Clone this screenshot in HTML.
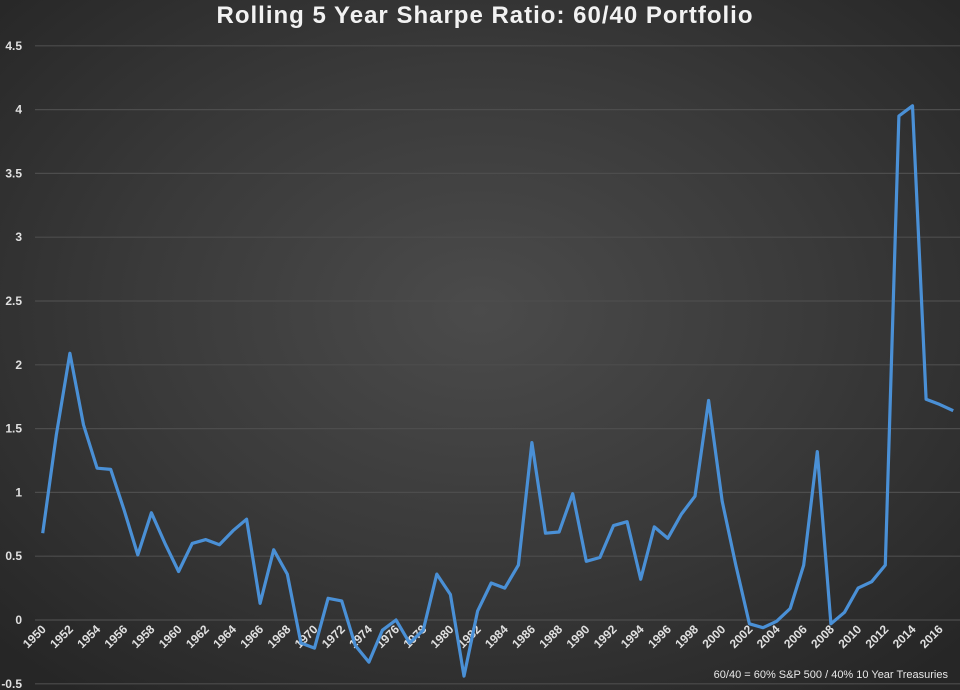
<!DOCTYPE html>
<html><head><meta charset="utf-8"><style>
html,body{margin:0;padding:0;}
body{width:960px;height:690px;overflow:hidden;background:radial-gradient(ellipse 70% 70% at 50% 45%,#4b4b4b 0%,#3a3a3a 50%,#262626 100%);font-family:"Liberation Sans",sans-serif;}
svg{position:absolute;left:0;top:0;}
</style></head><body>
<svg id="chart" width="960" height="690">
<text x="485" y="23" text-anchor="middle" fill="#f2f2f2" font-size="24" font-weight="bold" letter-spacing="1">Rolling 5 Year Sharpe Ratio: 60/40 Portfolio</text>
<g id="grid"></g><g id="ylabels"></g><g id="xlabels"></g>
<path id="line" fill="none" stroke="#4a90d6" stroke-width="3.2" stroke-linejoin="round"/>
<text x="948" y="678" text-anchor="end" fill="#e8e8e8" font-size="11">60/40 = 60% S&amp;P 500 / 40% 10 Year Treasuries</text>
</svg>
<script>
const years=[];for(let y=1950;y<=2017;y++)years.push(y);
const values=[0.68,1.45,2.09,1.53,1.19,1.18,0.86,0.51,0.84,0.6,0.38,0.6,0.63,0.59,0.7,0.79,0.13,0.55,0.36,-0.18,-0.22,0.17,0.15,-0.2,-0.33,-0.08,0.0,-0.18,-0.08,0.36,0.2,-0.44,0.07,0.29,0.25,0.43,1.39,0.68,0.69,0.99,0.46,0.49,0.74,0.77,0.32,0.73,0.64,0.83,0.97,1.72,0.93,0.43,-0.03,-0.06,-0.01,0.09,0.43,1.32,-0.03,0.06,0.25,0.3,0.43,3.95,4.03,1.73,1.69,1.64];
const yTicks=[-0.5,0,0.5,1,1.5,2,2.5,3,3.5,4,4.5];
const yTickLabels=["-0.5","0","0.5","1","1.5","2","2.5","3","3.5","4","4.5"];
const xTickYears=[];for(let y=1950;y<=2016;y+=2)xTickYears.push(y);
const ns="http://www.w3.org/2000/svg";
const X=y=>42.7+(y-1950)*13.59;
const Y=v=>620-v*127.6;
const grid=document.getElementById('grid'),yl=document.getElementById('ylabels'),xl=document.getElementById('xlabels');
yTicks.forEach((t,i)=>{
 const l=document.createElementNS(ns,'line');
 l.setAttribute('x1',35);l.setAttribute('x2',960);l.setAttribute('y1',Y(t));l.setAttribute('y2',Y(t));
 l.setAttribute('stroke','#4d4d4d');l.setAttribute('stroke-width','1.2');
 
 
 grid.appendChild(l);
 const tx=document.createElementNS(ns,'text');
 tx.setAttribute('x',22);tx.setAttribute('y',Y(t)+4);tx.setAttribute('text-anchor','end');
 tx.setAttribute('fill','#e0e0e0');tx.setAttribute('font-size','12');tx.setAttribute('font-weight','bold');
 tx.textContent=yTickLabels[i];
 
 
 yl.appendChild(tx);
});
xTickYears.forEach(yr=>{
 const tx=document.createElementNS(ns,'text');
 const x=X(yr)+4,y=630;
 tx.setAttribute('x',x);tx.setAttribute('y',y);tx.setAttribute('text-anchor','end');
 tx.setAttribute('transform','rotate(-45 '+x+' '+y+')');
 tx.setAttribute('fill','#e0e0e0');tx.setAttribute('font-size','12');tx.setAttribute('font-weight','bold');
 tx.textContent=yr;
 
 
 xl.appendChild(tx);
});
document.getElementById('line').setAttribute('d',values.map((v,i)=>(i?'L':'M')+X(years[i]).toFixed(1)+' '+Y(v).toFixed(1)).join(' '));
</script>
</body></html>
